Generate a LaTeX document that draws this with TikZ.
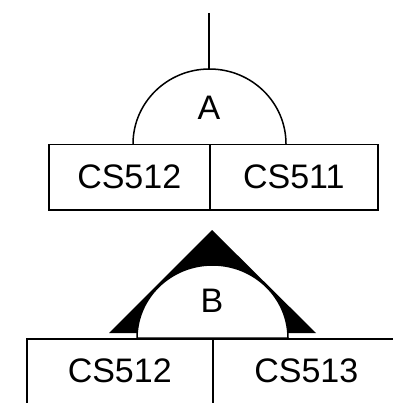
\documentclass[tikz,border=0pt]{standalone}
\usepackage{fontspec}
\setmainfont{Liberation Sans}
\begin{document}
\begin{tikzpicture}[x=1pt, y=-1pt, line width=1.5pt,
    every node/.style={font=\fontsize{34}{40}\selectfont},
    course/.style={draw, rectangle, inner sep=0pt, minimum height=65pt, anchor=north west}]
\useasboundingbox (0,0) rectangle (392,403);

% 1. upper unit: stem, gate A, two courses
\coordinate (root) at (209,13);
\coordinate (gateA) at (209,69);
\draw (root) -- (gateA);
\draw (133,144) arc[start angle=180, end angle=360, x radius=76.5, y radius=75];
\node at (209,108) (labA) {A};
\node[course, minimum width=161pt] (upL) at (48,144) {CS512};
\node[course, minimum width=168pt] (upR) at (209,144) {CS511};

% 2. lower unit: black wedge, gate B (white on top), two courses
\fill (109,333) -- (212,230) -- (316,333) -- cycle;
\filldraw[fill=white] (137,338) arc[start angle=180, end angle=360, x radius=75.5, y radius=73] -- cycle;
\node at (212,301) (labB) {B};
\node[course, minimum width=186pt] (loL) at (26,338) {CS512};
\node[course, minimum width=187pt] (loR) at (212,338) {CS513};
\end{tikzpicture}
\end{document}
